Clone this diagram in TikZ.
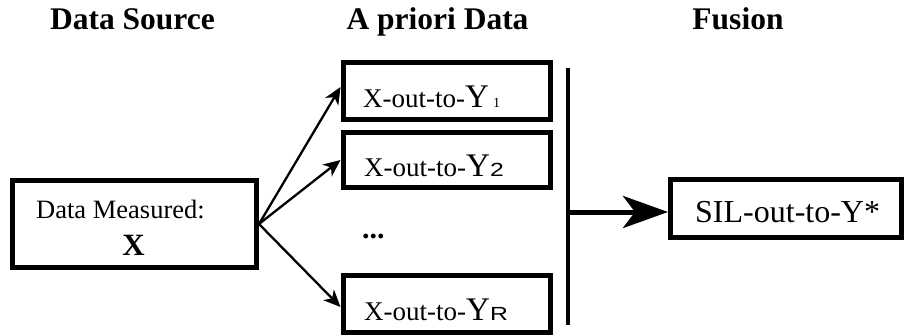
\documentclass[tikz,border=0pt]{standalone}
\usepackage{fontspec}
\setmainfont{Liberation Serif}
\newfontfamily\sansf{Liberation Sans}
\usetikzlibrary{arrows.meta,calc}
\tikzset{
  boxnode/.style={draw,line width=5pt,inner sep=0pt,minimum width=#1},
  txt/.style={inner sep=0pt,anchor=base west},
  title/.style={inner sep=0pt,anchor=base,font=\bfseries\fontsize{31.5}{36}\selectfont},
  thinarrow/.style={line width=2.3pt,-{Stealth[length=17pt,width=15pt,inset=5pt]}},
  thickarrow/.style={line width=5pt,-{Stealth[length=45pt,width=32pt,inset=12pt]}},
}
\newcommand{\subsans}[1]{\scalebox{1.3}[1]{\sansf\fontsize{19}{22}\selectfont #1}}
\begin{document}
\begin{tikzpicture}[x=1pt,y=-1pt]
\useasboundingbox (0,0) rectangle (908,335);
% titles
\node[title] (t1) at (132.5,29) {Data Source};
\node[title] (t2) at (437.5,29) {A priori Data};
\node[title] (t3) at (738,29) {Fusion};
% boxes
\node[boxnode=244pt,minimum height=87pt] (src) at (134.5,224) {};
\node[boxnode=207.5pt,minimum height=57pt] (b1) at (446.75,91) {};
\node[boxnode=207.5pt,minimum height=55pt] (b2) at (446.75,160) {};
\node[boxnode=207.5pt,minimum height=57pt] (bR) at (446.75,304) {};
\node[boxnode=231pt,minimum height=58pt] (sil) at (786,208.5) {};
% texts
\node[txt] (srct) at (36,218) {\fontsize{26.5}{30}\selectfont Data Measured:};
\node[inner sep=0pt,anchor=base] (srcx) at (133.5,255) {\bfseries\fontsize{31}{34}\selectfont X};
\node[txt] (l1) at (363,107) {\fontsize{27}{30}\selectfont X-out-to-\fontsize{33}{36}\selectfont Y\hspace{4pt}\fontsize{14}{16}\selectfont 1};
\node[txt] (l2) at (364,176.5) {\fontsize{27}{30}\selectfont X-out-to-\fontsize{33}{36}\selectfont Y\subsans{2}};
\node[txt] (lR) at (364,320) {\fontsize{27}{30}\selectfont X-out-to-\fontsize{33}{36}\selectfont Y\subsans{R}};
\node[txt] (dots) at (362,238) {\bfseries\fontsize{30}{32}\selectfont ...};
\node[txt] (silt) at (695,222) {\fontsize{32}{36}\selectfont SIL-out-to-Y*};
% connectors
\draw[thinarrow] (src.east) -- ([yshift=4pt]b1.west);
\draw[thinarrow] (src.east) -- (b2.west);
\draw[thinarrow] (src.east) -- ([yshift=-3pt]bR.west);
\coordinate (bt) at (568,68);
\coordinate (bb) at (568,325);
\draw[line width=4.5pt] (bt) -- (bb);
\coordinate (j) at (568,212);
\draw[thickarrow] (j) -- (j -| sil.west);
\end{tikzpicture}
\end{document}
